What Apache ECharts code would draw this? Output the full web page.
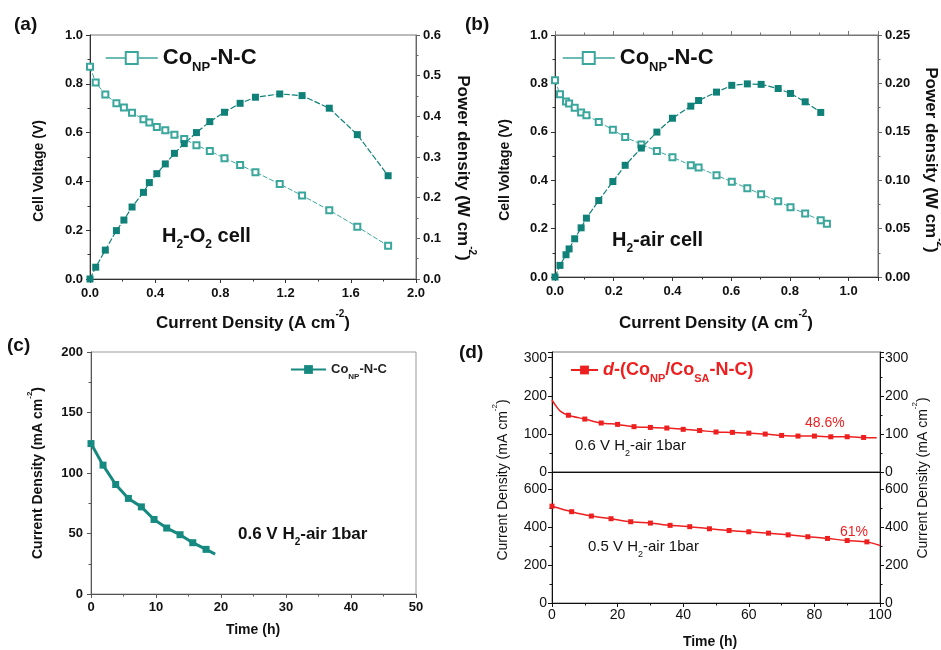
<!DOCTYPE html>
<html><head><meta charset="utf-8">
<script src="https://cdn.jsdelivr.net/npm/echarts@6/dist/echarts.min.js"></script>
<style>html,body{margin:0;padding:0;background:#fff}#c{width:941px;height:650px}</style>
</head><body><div id="c"></div>
<script>
// ---------- (a) H2-O2 polarization ----------
const aCurrent = [0, 0.035, 0.094, 0.162, 0.208, 0.258, 0.328, 0.364, 0.41, 0.462, 0.518, 0.578, 0.653, 0.735, 0.825, 0.921, 1.015, 1.164, 1.301, 1.468, 1.64, 1.829];
const aVoltage = [0.870, 0.805, 0.756, 0.720, 0.703, 0.681, 0.655, 0.641, 0.623, 0.610, 0.591, 0.574, 0.548, 0.525, 0.495, 0.467, 0.438, 0.389, 0.342, 0.282, 0.214, 0.136];
const aPower = [0, 0.029, 0.071, 0.119, 0.145, 0.177, 0.213, 0.237, 0.259, 0.283, 0.309, 0.333, 0.360, 0.387, 0.410, 0.432, 0.447, 0.455, 0.451, 0.420, 0.355, 0.254];
// ---------- (b) H2-air polarization ----------
const bCurrent = [0, 0.017, 0.0375, 0.048, 0.067, 0.089, 0.107, 0.149, 0.197, 0.239, 0.294, 0.347, 0.40, 0.4625, 0.489, 0.55, 0.602, 0.655, 0.702, 0.76, 0.802, 0.852, 0.905, 0.926];
const bVoltage = [0.813, 0.755, 0.725, 0.717, 0.699, 0.680, 0.668, 0.641, 0.608, 0.578, 0.548, 0.521, 0.495, 0.462, 0.452, 0.420, 0.394, 0.367, 0.342, 0.313, 0.288, 0.262, 0.234, 0.220];
const bPower = [0, 0.012, 0.023, 0.029, 0.0395, 0.0508, 0.0608, 0.079, 0.0986, 0.1154, 0.1332, 0.1497, 0.164, 0.1765, 0.1823, 0.191, 0.198, 0.1995, 0.199, 0.1947, 0.1896, 0.181, 0.170, null];
// ---------- (c) stability Co_NP-N-C ----------
const cTime = [0, 1.85, 3.8, 5.75, 7.75, 9.7, 11.65, 13.7, 15.66, 17.7, 19.1];
const cCurrent = [124.3, 106.5, 90.5, 79, 72, 61.6, 54.5, 49, 42.4, 36.9, 33.0];
const cMarkerTimes = [0, 1.85, 3.8, 5.75, 7.75, 9.7, 11.65, 13.7, 15.66, 17.7];
// ---------- (d) stability d-(Co_NP/Co_SA-N-C) ----------
const dTopTime = [0, 1, 2.5, 5, 10, 15, 20, 25, 30, 35, 40, 45, 50, 55, 60, 65, 70, 75, 80, 85, 90, 95, 99];
const dTopCurrent = [189, 176, 160, 149, 139, 128.6, 125, 119, 117, 115.4, 112, 109, 105, 104, 102, 99.6, 96, 94.3, 94.3, 92.5, 92.5, 90.7, 90];
const dTopMarkerTimes = [5, 10, 15, 20, 25, 30, 35, 40, 45, 50, 55, 60, 65, 70, 75, 80, 85, 90, 95];
const dBotTime = [0, 6, 12, 18, 24, 30, 36, 42, 48, 54, 60, 66, 72, 78, 84, 90, 96, 100];
const dBotCurrent = [510, 481, 458, 444, 428, 421, 409, 402, 391, 382, 375, 368, 359, 349, 340, 329, 322, 303];
const dBotMarkerTimes = [0, 6, 12, 18, 24, 30, 36, 42, 48, 54, 60, 66, 72, 78, 84, 90, 96];

const FONT = '"Liberation Sans", Arial, sans-serif';
const TEAL = '#0f8178';
const TEAL_L = '#3ba69c';
const CTEAL = '#168a80';
const RED = '#ee1f1f';

function pairs(xs, ys) { return xs.map((x, i) => [x, ys[i]]); }

function mkAxis(o) {
  const col = o.lineColor || '#333';
  return {
    type: 'value', gridIndex: o.grid, position: o.position,
    min: o.min, max: o.max, interval: o.interval,
    axisLine: { show: true, onZero: false, lineStyle: { color: col, width: 1 } },
    axisTick: { show: o.ticks !== false, length: 4, lineStyle: { color: col } },
    minorTick: { show: o.ticks !== false, splitNumber: 2, length: 2.5, lineStyle: { color: col } },
    splitLine: { show: false },
    axisLabel: {
      show: o.labels !== false, color: '#111', fontFamily: FONT,
      fontWeight: o.weight || 'bold', fontSize: o.fontSize || 13, margin: o.margin || 7,
      formatter: o.fmt, showMaxLabel: o.showMax === false ? false : null
    }
  };
}
const f1 = v => v.toFixed(1), f2 = v => v.toFixed(2);

function richSet(size, weight, color) {
  return {
    m: { fontSize: size, fontWeight: weight, fontFamily: FONT, fill: color, color: color, lineHeight: size + 10, verticalAlign: 'middle' },
    i: { fontSize: size, fontWeight: weight, fontFamily: FONT, fill: color, color: color, fontStyle: 'italic', lineHeight: size + 10, verticalAlign: 'middle' },
    s: { fontSize: Math.round(size * 0.6), fontWeight: weight, fontFamily: FONT, fill: color, color: color, lineHeight: Math.round(size * 0.6), verticalAlign: 'bottom' },
    p: { fontSize: Math.round(size * 0.6), fontWeight: weight, fontFamily: FONT, fill: color, color: color, lineHeight: Math.round(size * 0.6), verticalAlign: 'top' }
  };
}
function txt(x, y, text, size, opts) {
  opts = opts || {};
  const color = opts.color || '#111';
  return {
    type: 'text', x: x, y: y, rotation: opts.rotation || 0, z: 100,
    style: {
      text: text, rich: richSet(size, opts.weight || 'bold', color),
      fontSize: size, fontFamily: FONT, fontWeight: opts.weight || 'bold', fill: color,
      align: opts.align || 'left', verticalAlign: 'middle'
    }
  };
}

const chart = echarts.init(document.getElementById('c'), null, { renderer: 'canvas' });

const gridBase = { show: true, borderColor: '#777', borderWidth: 1, backgroundColor: 'transparent' };

const option = {
  animation: false,
  backgroundColor: '#fff',
  grid: [
    Object.assign({ left: 90, top: 35, width: 326, height: 244 }, gridBase),
    Object.assign({ left: 555, top: 35, width: 323, height: 242 }, gridBase),
    Object.assign({ left: 91, top: 352, width: 325, height: 242 }, gridBase, { borderColor: '#999' }),
    Object.assign({ left: 552, top: 352, width: 328, height: 120 }, gridBase),
    Object.assign({ left: 552, top: 472, width: 328, height: 131 }, gridBase)
  ],
  xAxis: [
    mkAxis({ grid: 0, position: 'bottom', min: 0, max: 2, interval: 0.4, fmt: f1, margin: 8 }),
    mkAxis({ grid: 1, position: 'bottom', min: 0, max: 1.1, interval: 0.2, fmt: f1, showMax: false, margin: 8 }),
    mkAxis({ grid: 1, position: 'top', min: 0, max: 1.1, interval: 0.2, labels: false, lineColor: '#777' }),
    mkAxis({ grid: 2, position: 'bottom', min: 0, max: 50, interval: 10, lineColor: '#555', fontSize: 13, margin: 7 }),
    mkAxis({ grid: 3, position: 'bottom', min: 0, max: 100, interval: 20, labels: false, ticks: false, lineColor: '#111' }),
    mkAxis({ grid: 4, position: 'bottom', min: 0, max: 100, interval: 20, fontSize: 14, weight: 'normal', margin: 5, lineColor: '#111' })
  ],
  yAxis: [
    mkAxis({ grid: 0, position: 'left', min: 0, max: 1, interval: 0.2, fmt: f1 }),
    mkAxis({ grid: 0, position: 'right', min: 0, max: 0.6, interval: 0.1, fmt: f1, lineColor: '#666' }),
    mkAxis({ grid: 1, position: 'left', min: 0, max: 1, interval: 0.2, fmt: f1 }),
    mkAxis({ grid: 1, position: 'right', min: 0, max: 0.25, interval: 0.05, fmt: f2, lineColor: '#666' }),
    mkAxis({ grid: 2, position: 'left', min: 0, max: 200, interval: 50, lineColor: '#555', margin: 8 }),
    mkAxis({ grid: 3, position: 'left', min: 0, max: 315, interval: 100, showMax: false, fontSize: 14, weight: 'normal', margin: 5, lineColor: '#111' }),
    mkAxis({ grid: 3, position: 'right', min: 0, max: 315, interval: 100, showMax: false, fontSize: 14, weight: 'normal', margin: 5, lineColor: '#111' }),
    mkAxis({ grid: 4, position: 'left', min: 0, max: 690, interval: 200, showMax: false, fontSize: 14, weight: 'normal', margin: 5, lineColor: '#111' }),
    mkAxis({ grid: 4, position: 'right', min: 0, max: 690, interval: 200, showMax: false, fontSize: 14, weight: 'normal', margin: 5, lineColor: '#111' })
  ],
  legend: [
    { data: ['aV'], left: 105, top: 47, padding: 0, itemWidth: 52, itemHeight: 15, selectedMode: false,
      lineStyle: { type: 'solid', width: 1.5 },
      formatter: () => '{m|Co}{s|NP}{m|-N-C}', textStyle: { rich: richSet(22, 'bold', '#111') } },
    { data: ['bV'], left: 562, top: 47, padding: 0, itemWidth: 52, itemHeight: 15, selectedMode: false,
      lineStyle: { type: 'solid', width: 1.5 },
      formatter: () => '{m|Co}{s|NP}{m|-N-C}', textStyle: { rich: richSet(22, 'bold', '#111') } },
    { data: ['cLine'], left: 290, top: 363, padding: 0, itemWidth: 35, itemHeight: 11, selectedMode: false,
      formatter: () => '{m|Co}{s|NP}{m|-N-C}', textStyle: { rich: richSet(13, 'bold', '#222') } },
    { data: ['dTop'], left: 570, top: 361, padding: 0, itemWidth: 27, itemHeight: 11, selectedMode: false,
      formatter: () => '{i|d}{m|-(Co}{s|NP}{m|/Co}{s|SA}{m|-N-C)}', textStyle: { rich: richSet(18, 'bold', RED) } }
  ],
  series: [
    { name: 'aV', type: 'line', xAxisIndex: 0, yAxisIndex: 0, data: pairs(aCurrent, aVoltage),
      symbol: 'emptyRect', symbolSize: 6, itemStyle: { color: TEAL_L, borderWidth: 1 },
      lineStyle: { color: TEAL_L, width: 1, type: [5, 2] }, z: 3 },
    { name: 'aP', type: 'line', xAxisIndex: 0, yAxisIndex: 1, data: pairs(aCurrent, aPower),
      symbol: 'rect', symbolSize: 7, itemStyle: { color: TEAL },
      lineStyle: { color: TEAL, width: 1.2, type: [6, 2] }, z: 3 },
    { name: 'bV', type: 'line', xAxisIndex: 1, yAxisIndex: 2, data: pairs(bCurrent, bVoltage),
      symbol: 'emptyRect', symbolSize: 6, itemStyle: { color: TEAL_L, borderWidth: 1 },
      lineStyle: { color: TEAL_L, width: 1, type: [5, 2] }, z: 3 },
    { name: 'bP', type: 'line', xAxisIndex: 1, yAxisIndex: 3, data: pairs(bCurrent, bPower),
      symbol: 'rect', symbolSize: 7, itemStyle: { color: TEAL }, connectNulls: false,
      lineStyle: { color: TEAL, width: 1.2, type: [6, 2] }, z: 3 },
    { name: 'cLine', type: 'line', xAxisIndex: 3, yAxisIndex: 4, data: pairs(cTime, cCurrent),
      symbol: 'rect', symbolSize: v => cMarkerTimes.includes(v[0]) ? 7 : 0,
      itemStyle: { color: CTEAL }, lineStyle: { color: CTEAL, width: 3 }, z: 3 },
    { name: 'dTop', type: 'line', xAxisIndex: 4, yAxisIndex: 5, data: pairs(dTopTime, dTopCurrent),
      smooth: 0.3, symbol: 'rect', symbolSize: v => dTopMarkerTimes.includes(v[0]) ? 5 : 0,
      itemStyle: { color: RED }, lineStyle: { color: RED, width: 1.5 }, z: 3 },
    { name: 'dBot', type: 'line', xAxisIndex: 5, yAxisIndex: 7, data: pairs(dBotTime, dBotCurrent),
      smooth: 0.3, symbol: 'rect', symbolSize: v => dBotMarkerTimes.includes(v[0]) ? 5 : 0,
      itemStyle: { color: RED }, lineStyle: { color: RED, width: 1.5 }, z: 3 }
  ],
  graphic: [
    // panel labels
    txt(14, 25, '(a)', 19),
    txt(465, 25, '(b)', 19),
    txt(7, 346, '(c)', 19),
    txt(459, 353, '(d)', 19),
    // (a) axis titles
    txt(39, 171, '{m|Cell Voltage (V)}', 14, { align: 'center', rotation: Math.PI / 2 }),
    txt(253, 323, '{m|Current Density (A cm}{p|-2}{m|)}', 17, { align: 'center' }),
    txt(463, 168, '{m|Power density (W cm}{p|-2}{m|)}', 17, { align: 'center', rotation: -Math.PI / 2 }),
    txt(162, 236, '{m|H}{s|2}{m|-O}{s|2}{m| cell}', 20),
    // (b) axis titles
    txt(505, 170, '{m|Cell Voltage (V)}', 14, { align: 'center', rotation: Math.PI / 2 }),
    txt(716, 323, '{m|Current Density (A cm}{p|-2}{m|)}', 17, { align: 'center' }),
    txt(931, 160, '{m|Power density (W cm}{p|-2}{m|)}', 17, { align: 'center', rotation: -Math.PI / 2 }),
    txt(612, 240, '{m|H}{s|2}{m|-air cell}', 20),
    // (c)
    txt(38, 473, '{m|Current Density (mA cm}{p|-2}{m|)}', 14, { align: 'center', rotation: Math.PI / 2 }),
    txt(253, 630, '{m|Time (h)}', 14, { align: 'center' }),
    txt(238, 534, '{m|0.6 V H}{s|2}{m|-air 1bar}', 17),
    // (d)
    txt(503, 480, '{m|Current Density (mA cm}{p|-2}{m|)}', 14, { align: 'center', rotation: Math.PI / 2, weight: 'normal' }),
    txt(923, 478, '{m|Current Density (mA cm}{p|-2}{m|)}', 14, { align: 'center', rotation: Math.PI / 2, weight: 'normal' }),
    txt(710, 642, '{m|Time (h)}', 14, { align: 'center' }),
    txt(805, 423, '{m|48.6%}', 14, { color: RED, weight: 'normal' }),
    txt(840, 532, '{m|61%}', 14, { color: RED, weight: 'normal' }),
    txt(575, 446, '{m|0.6 V H}{s|2}{m|-air 1bar}', 15, { weight: 'normal' }),
    txt(588, 547, '{m|0.5 V H}{s|2}{m|-air 1bar}', 15, { weight: 'normal' })
  ]
};
chart.setOption(option);
</script>
</body></html>
